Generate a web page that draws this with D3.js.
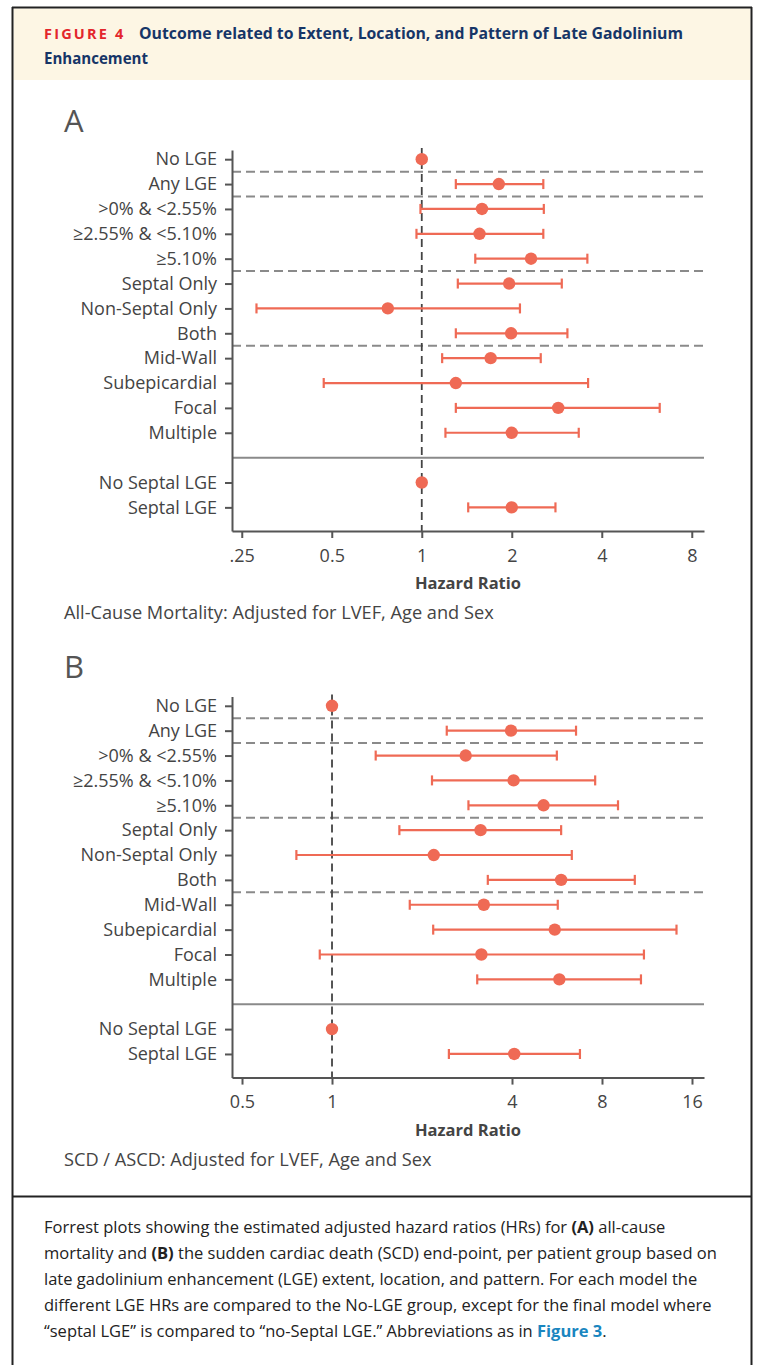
<!DOCTYPE html>
<html><head><meta charset="utf-8">
<script src="https://cdn.jsdelivr.net/npm/d3@7"></script>
<style>body{margin:0;background:#fff}svg{display:block}</style>
</head><body><svg id="c" width="757" height="1365"></svg>
<script>
// ---------- data ----------
const categories = ["No LGE","Any LGE",">0% & <2.55%","≥2.55% & <5.10%","≥5.10%","Septal Only","Non-Septal Only","Both","Mid-Wall","Subepicardial","Focal","Multiple","No Septal LGE","Septal LGE"];
const rowIndex = [0,1,2,3,4,5,6,7,8,9,10,11,13,14];
const hrA = [1,1.81,1.59,1.56,2.32,1.96,0.77,1.99,1.70,1.30,2.86,2.00,1,2.00];
const loA = [null,1.30,0.99,0.96,1.51,1.32,0.28,1.30,1.17,0.47,1.30,1.20,null,1.43];
const hiA = [null,2.55,2.56,2.55,3.58,2.94,2.13,3.07,2.50,3.60,6.25,3.35,null,2.80];
const hrB = [1,3.97,2.80,4.05,5.10,3.14,2.19,5.84,3.22,5.56,3.16,5.76,1,4.07];
const loB = [null,2.42,1.40,2.16,2.86,1.68,0.76,3.32,1.82,2.18,0.91,3.06,null,2.46];
const hiB = [null,6.55,5.65,7.59,9.05,5.84,6.34,10.3,5.69,14.2,11.05,10.8,null,6.75];
const ticksA = [0.25,0.5,1,2,4,8];
const tickLabelsA = [".25","0.5","1","2","4","8"];
const ticksB = [0.5,1,4,8,16];
const tickLabelsB = ["0.5","1","4","8","16"];
const domainA = [0.2319, 8.79];
const domainB = [0.4629, 17.55];
const dashedRows = [0.5,1.5,4.5,7.5];
const solidRows = [12];
const rowDomain = [-0.37, 14.95];
const panelLetters = ["A","B"];
const subtitles = ["All-Cause Mortality: Adjusted for LVEF, Age and Sex","SCD / ASCD: Adjusted for LVEF, Age and Sex"];
const xTitle = "Hazard Ratio";
const figLabel = "FIGURE 4";
const titleLines = ["Outcome related to Extent, Location, and Pattern of Late Gadolinium","Enhancement"];
const captionLines = [
  [["Forrest plots showing the estimated adjusted hazard ratios (HRs) for ",0],["(A)",1],[" all-cause",0]],
  [["mortality and ",0],["(B)",1],[" the sudden cardiac death (SCD) end-point, per patient group based on",0]],
  [["late gadolinium enhancement (LGE) extent, location, and pattern. For each model the",0]],
  [["different LGE HRs are compared to the No-LGE group, except for the final model where",0]],
  [["\u201Cseptal LGE\u201D is compared to \u201Cno-Septal LGE.\u201D Abbreviations as in ",0],["Figure 3",2],[".",0]]
];

// ---------- drawing ----------
const svg = d3.select("#c");
const FONT = "'Open Sans', 'Noto Sans', sans-serif";
const RED = "#ef6a55";

// frame
svg.append("rect").attr("x",13.5).attr("y",8.5).attr("width",737).attr("height",71.5).attr("fill","#fdf6e4");
svg.append("line").attr("x1",12.5).attr("x2",12.5).attr("y1",7).attr("y2",1365).attr("stroke","#222").attr("stroke-width",2);
svg.append("line").attr("x1",751.5).attr("x2",751.5).attr("y1",7).attr("y2",1365).attr("stroke","#222").attr("stroke-width",2);
svg.append("line").attr("x1",12).attr("x2",752).attr("y1",7.5).attr("y2",7.5).attr("stroke","#222").attr("stroke-width",2);
svg.append("line").attr("x1",12).attr("x2",752).attr("y1",1196.5).attr("y2",1196.5).attr("stroke","#222").attr("stroke-width",2);

// header
svg.append("text").attr("x",44).attr("y",39).text(figLabel)
  .attr("font-family",FONT).attr("font-weight","bold").attr("font-size",14.5)
  .attr("letter-spacing",2.2).attr("fill","#e3262c");
svg.append("text").attr("x",139).attr("y",39).text(titleLines[0])
  .attr("font-family",FONT).attr("font-weight","bold").attr("font-size",16.5)
  .attr("fill","#163567").attr("textLength",544).attr("lengthAdjust","spacingAndGlyphs");
svg.append("text").attr("x",44).attr("y",64).text(titleLines[1])
  .attr("font-family",FONT).attr("font-weight","bold").attr("font-size",16.5)
  .attr("fill","#163567").attr("textLength",104).attr("lengthAdjust","spacingAndGlyphs");

function panel(k, hr, lo, hi, ticks, tickLabels, dom, dy){
  const g = svg.append("g").attr("transform",`translate(0,${dy})`);
  const x = d3.scaleLog().base(2).domain(dom).range([232,704]);
  const y = d3.scaleLinear().domain(rowDomain).range([150,531]);
  const xl = x.range(), yl = y.range();

  g.append("text").attr("x",64).attr("y",131.5).text(panelLetters[k])
    .attr("font-family",FONT).attr("font-size",31).attr("fill","#555");

  // separators
  g.selectAll("line.dsep").data(dashedRows).join("line").attr("class","dsep")
    .attr("x1",xl[0]).attr("x2",xl[1]).attr("y1",d=>y(d)).attr("y2",d=>y(d))
    .attr("stroke","#8a8a8a").attr("stroke-width",2).attr("stroke-dasharray","9,5");
  g.selectAll("line.ssep").data(solidRows).join("line").attr("class","ssep")
    .attr("x1",xl[0]).attr("x2",xl[1]).attr("y1",d=>y(d)).attr("y2",d=>y(d))
    .attr("stroke","#8a8a8a").attr("stroke-width",2);

  // reference line HR=1
  g.append("line").attr("x1",x(1)).attr("x2",x(1)).attr("y1",yl[0]-2).attr("y2",yl[1])
    .attr("stroke","#444").attr("stroke-width",1.8).attr("stroke-dasharray","8,5");

  // axes
  const ay = d3.axisLeft(y).tickValues(rowIndex).tickFormat((d,i)=>categories[i])
    .tickSize(7).tickSizeOuter(0).tickPadding(8);
  const gy = g.append("g").attr("transform",`translate(${xl[0]},0)`).call(ay);
  const ax = d3.axisBottom(x).tickValues(ticks).tickFormat((d,i)=>tickLabels[i])
    .tickSize(7).tickSizeOuter(0).tickPadding(11);
  const gx = g.append("g").attr("transform",`translate(0,${yl[1]})`).call(ax);
  [gy,gx].forEach(a=>{
    a.select(".domain").attr("stroke","#555").attr("stroke-width",2);
    a.selectAll(".tick line").attr("stroke","#555").attr("stroke-width",2);
    a.selectAll(".tick text").attr("font-family",FONT).attr("font-size",18).attr("fill","#444");
  });

  g.append("text").attr("x",(xl[0]+xl[1])/2).attr("y",589).attr("text-anchor","middle").text(xTitle)
    .attr("font-family",FONT).attr("font-weight","bold").attr("font-size",16.5).attr("fill","#444");
  g.append("text").attr("x",64).attr("y",619).text(subtitles[k])
    .attr("font-family",FONT).attr("font-size",18.2).attr("fill","#444");

  // error bars
  const rows = categories.map((c,i)=>({r:rowIndex[i],hr:hr[i],lo:lo[i],hi:hi[i]}));
  const ci = rows.filter(d=>d.lo!=null);
  g.selectAll("line.ci").data(ci).join("line").attr("class","ci")
    .attr("x1",d=>x(d.lo)).attr("x2",d=>x(d.hi)).attr("y1",d=>y(d.r)).attr("y2",d=>y(d.r))
    .attr("stroke",RED).attr("stroke-width",2.2);
  ["lo","hi"].forEach(key=>{
    g.selectAll("line.cap"+key).data(ci).join("line").attr("class","cap"+key)
      .attr("x1",d=>x(d[key])).attr("x2",d=>x(d[key])).attr("y1",d=>y(d.r)-5).attr("y2",d=>y(d.r)+5)
      .attr("stroke",RED).attr("stroke-width",2.2);
  });
  g.selectAll("circle.pt").data(rows).join("circle").attr("class","pt")
    .attr("cx",d=>x(d.hr)).attr("cy",d=>y(d.r)).attr("r",6.2).attr("fill",RED);
}
panel(0, hrA, loA, hiA, ticksA, tickLabelsA, domainA, 0);
panel(1, hrB, loB, hiB, ticksB, tickLabelsB, domainB, 546.6);

// caption
captionLines.forEach((parts,i)=>{
  const t = svg.append("text").attr("x",44).attr("y",1233+i*26)
    .attr("font-family",FONT).attr("font-size",16.5).attr("fill","#222");
  parts.forEach(([s,st])=>{
    const ts = t.append("tspan").text(s);
    if(st>=1) ts.attr("font-weight","bold");
    if(st===2) ts.attr("fill","#1a86c0");
  });
});
</script></body></html>
